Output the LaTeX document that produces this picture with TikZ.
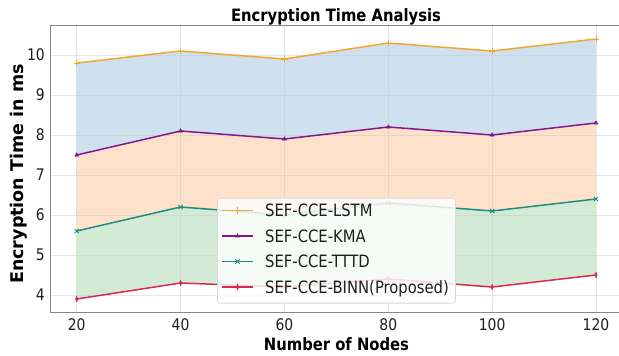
\documentclass[tikz,border=0pt]{standalone}
\usepackage{fontspec}
\setmainfont{DejaVu Sans}
\newfontfamily\plotfont[FakeStretch=0.87]{DejaVu Sans}
\usetikzlibrary{shapes.geometric,shapes.misc}

\definecolor{cLSTM}{RGB}{240,168,50}
\definecolor{cKMA}{RGB}{128,25,140}
\definecolor{cTTTD}{RGB}{30,140,128}
\definecolor{cBINN}{RGB}{214,40,80}
\definecolor{fBlue}{RGB}{207,224,238}
\definecolor{fOrange}{RGB}{253,225,202}
\definecolor{fGreen}{RGB}{211,235,213}
\definecolor{spinec}{RGB}{135,135,135}
\definecolor{gridc}{RGB}{200,200,200}
\definecolor{txt}{RGB}{30,30,30}

\tikzset{
  series/.style={line width=1.5pt, line join=round},
  mkplus/.style={cross out, draw, rotate=45, minimum size=3.6pt, inner sep=0pt, line width=0.9pt},
  mktri/.style={regular polygon, regular polygon sides=3, fill, draw, minimum size=4.6pt, inner sep=0pt, line width=0.4pt},
  mkx/.style={cross out, draw, minimum size=3.4pt, inner sep=0pt, line width=0.9pt},
  mkdia/.style={diamond, fill, draw, minimum width=2.6pt, minimum height=6pt, inner sep=0pt, line width=0.4pt},
  gridline/.style={gridc, line width=0.6pt, opacity=0.45},
  spineline/.style={spinec, line width=1pt},
  ticklabel/.style={font=\plotfont\fontsize{16}{19}\selectfont, text=txt, inner sep=0pt},
  legtext/.style={font=\plotfont\fontsize{17}{20}\selectfont, text=txt, inner sep=0pt},
  axlabel/.style={font=\plotfont\bfseries\fontsize{17}{20}\selectfont, text=black, inner sep=0pt},
  ylab/.style={font=\bfseries\fontsize{17.5}{20}\selectfont, text=black, inner sep=0pt},
  legendbox/.style={draw=gray!30, line width=0.8pt, fill=white, fill opacity=0.82, rounded corners=3pt, inner sep=0pt},
}

% one series: prefix and the six values at 20,40,...,120 nodes
\newcommand\defseries[2]{%
  \foreach \v [count=\i] in {#2} {%
    \pgfmathsetmacro\xx{20*\i}%
    \coordinate (#1\i) at (\xx,\v);%
  }}

\begin{document}
\begin{tikzpicture}[x=1pt,y=-1pt]
\useasboundingbox (0,0) rectangle (619,356);
\begin{scope}
\clip (0,0) rectangle (619,356);

% data coordinates: x in nodes, y in ms
\begin{scope}[x={(5.193pt,0pt)}, y={(0pt,40pt)}, shift={(-27.16pt,-455pt)}]
  \defseries{L}{9.8,10.1,9.9,10.3,10.1,10.4}
  \defseries{K}{7.5,8.1,7.9,8.2,8.0,8.3}
  \defseries{T}{5.6,6.2,6.0,6.3,6.1,6.4}
  \defseries{B}{3.9,4.3,4.2,4.4,4.2,4.5}
\end{scope}

% shaded bands between neighbouring series
\fill[fBlue] (L1) -- (L2) -- (L3) -- (L4) -- (L5) -- (L6) -- (K6) -- (K5) -- (K4) -- (K3) -- (K2) -- (K1) -- cycle;
\fill[fOrange] (K1) -- (K2) -- (K3) -- (K4) -- (K5) -- (K6) -- (T6) -- (T5) -- (T4) -- (T3) -- (T2) -- (T1) -- cycle;
\fill[fGreen] (T1) -- (T2) -- (T3) -- (T4) -- (T5) -- (T6) -- (B6) -- (B5) -- (B4) -- (B3) -- (B2) -- (B1) -- cycle;

% grid
\foreach \t in {20,40,...,120} {
  \pgfmathsetmacro\px{76.7+(\t-20)*5.193}
  \draw[gridline] (\px,25.3) -- (\px,312.3);
}
\foreach \t in {4,...,10} {
  \pgfmathsetmacro\py{455-40*\t}
  \draw[gridline] (50,\py) -- (625,\py);
}

% series lines and markers
\draw[series, cLSTM] (L1) -- (L2) -- (L3) -- (L4) -- (L5) -- (L6);
\draw[series, cKMA] (K1) -- (K2) -- (K3) -- (K4) -- (K5) -- (K6);
\draw[series, cTTTD] (T1) -- (T2) -- (T3) -- (T4) -- (T5) -- (T6);
\draw[series, cBINN] (B1) -- (B2) -- (B3) -- (B4) -- (B5) -- (B6);
\foreach \i in {1,...,6} {
  \node[mkplus, cLSTM] (mL\i) at (L\i) {};
  \node[mktri, cKMA] (mK\i) at (K\i) {};
  \node[mkx, cTTTD] (mT\i) at (T\i) {};
  \node[mkdia, cBINN] (mB\i) at (B\i) {};
}

% axes frame
\draw[spineline] (50,312.3) -- (50,25.3) -- (622.7,25.3) -- (622.7,312.3) -- cycle;

% legend
\node[legendbox, anchor=north west, minimum width=238pt, minimum height=105pt] (legend) at (217,197.7) {};
\foreach \k/\name/\col/\mk in {1/{SEF-CCE-LSTM}/cLSTM/mkplus, 2/{SEF-CCE-KMA}/cKMA/mktri, 3/{SEF-CCE-TTTD}/cTTTD/mkx, 4/{SEF-CCE-BINN(Proposed)}/cBINN/mkdia} {
  \pgfmathsetmacro\ry{210.5+(\k-1)*25.5}
  \pgfmathsetmacro\rb{\ry+6.2}
  \coordinate (lga\k) at (222,\ry);
  \coordinate (lgb\k) at (253,\ry);
  \draw[series, \col] (lga\k) -- (lgb\k);
  \node[\mk, \col] (lgm\k) at (237.5,\ry) {};
  \node[legtext, anchor=base west] (lgt\k) at (265,\rb) {\name};
}

% tick labels
\foreach \t in {20,40,...,120} {
  \pgfmathsetmacro\px{76.7+(\t-20)*5.193}
  \node[ticklabel, anchor=base] (xt\t) at (\px,330.8) {\t};
}
\foreach \t in {4,...,10} {
  \pgfmathsetmacro\py{455-40*\t+5.8}
  \node[ticklabel, anchor=base east] (yt\t) at (45,\py) {\t};
}

% titles
\node[axlabel, anchor=base] (title) at (336,21.5) {Encryption Time Analysis};
\node[axlabel, anchor=base] (xlabel) at (336.5,350) {Number of Nodes};
\node[ylab, anchor=base, rotate=90] (ylabel) at (23.5,174) {Encryption Time in ms};
\end{scope}
\end{tikzpicture}
\end{document}
